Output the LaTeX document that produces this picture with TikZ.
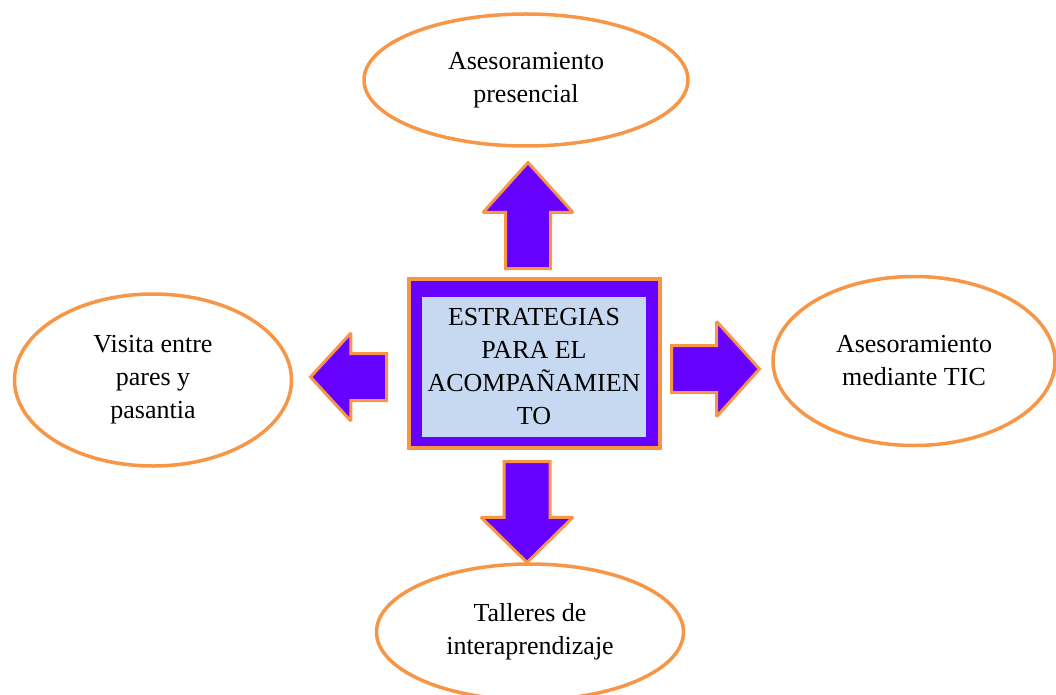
\documentclass[tikz,border=0pt]{standalone}
\usepackage{fontspec}
\setmainfont{Liberation Serif}
\usepackage{tikz}
\usetikzlibrary{positioning,shapes.geometric,shapes.arrows}
\definecolor{ringorange}{RGB}{247,150,70}
\definecolor{arrowpurple}{RGB}{102,0,255}
\definecolor{hubblue}{RGB}{198,217,241}
\tikzstyle{idea}=[ellipse,draw=ringorange,line width=3.5pt,fill=white,
inner sep=0pt,align=center,font=\fontsize{26}{33}\selectfont]
\tikzstyle{hubframe}=[rectangle,draw=ringorange,line width=4pt,fill=arrowpurple,
minimum width=251pt,minimum height=169pt,inner sep=0pt]
\tikzstyle{hubtext}=[rectangle,fill=hubblue,minimum width=224pt,minimum height=140pt,
inner sep=0pt,align=center,font=\fontsize{26}{33}\selectfont]
\tikzstyle{bigarrow}=[single arrow,draw=ringorange,fill=arrowpurple,line width=3pt,
inner xsep=0pt,miter limit=2,anchor=tail]

\begin{document}
\begin{tikzpicture}[x=1pt,y=-1pt]
            \useasboundingbox (0,0) rectangle (1056,695);

            % CENTRE PART

            \node[hubframe] (hub) at (534.5,363.5) {};
            \node[hubtext] (hubin) at (534,367) {ESTRATEGIAS\\PARA EL\\ACOMPAÑAMIEN\\TO};

            % IDEAS PART

            \node[idea,minimum width=324pt,minimum height=132pt] (pres) at (526,80) {Asesoramiento\\presencial};
            \node[idea,minimum width=277pt,minimum height=172pt] (pares) at (153,380) {Visita entre\\pares y\\pasantia};
            \node[idea,minimum width=282pt,minimum height=169pt] (tic) at (914,361) {Asesoramiento\\mediante TIC};
            \node[idea,minimum width=307pt,minimum height=136pt] (talleres) at (530,632) {Talleres de\\interaprendizaje};

            % ARROWS PART

            \node[bigarrow,rotate=90,minimum height=106pt,inner ysep=21pt,
                  single arrow head extend=22.5pt,single arrow tip angle=84] (aup) at (528,270) {};
            \node[bigarrow,rotate=180,minimum height=76pt,inner ysep=22pt,
                  single arrow head extend=20.5pt,single arrow tip angle=95] (aleft) at (388,377) {};
            \node[bigarrow,minimum height=88pt,inner ysep=22pt,
                  single arrow head extend=24pt,single arrow tip angle=96] (aright) at (670,369) {};
            \node[bigarrow,rotate=270,minimum height=101pt,inner ysep=21.5pt,
                  single arrow head extend=23pt,single arrow tip angle=91] (adown) at (527,460) {};

        \end{tikzpicture}
\end{document}
